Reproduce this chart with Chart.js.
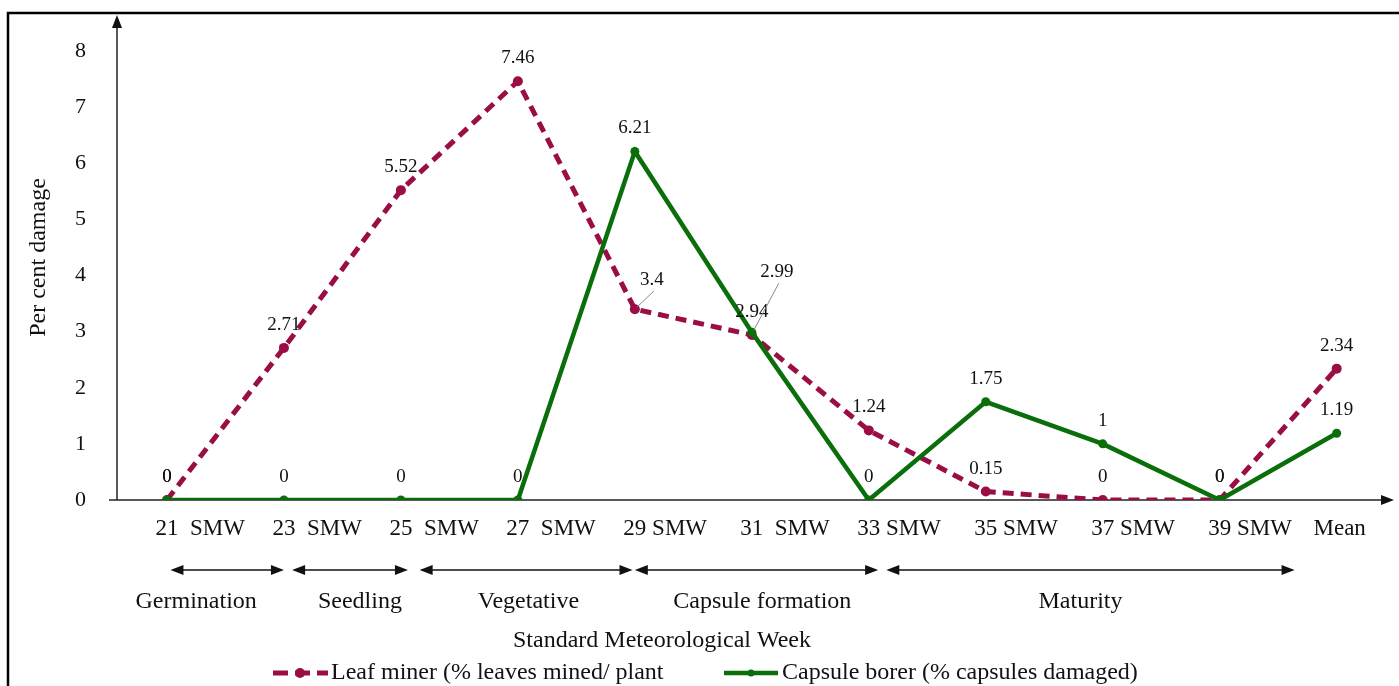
<!DOCTYPE html>
<html>
<head>
<meta charset="utf-8">
<script src="https://cdn.jsdelivr.net/npm/chart.js@4.4.1/dist/chart.umd.min.js"></script>
<style>
  html, body { margin: 0; padding: 0; background: #fff; }
  #wrap { width: 1399px; height: 686px; }
</style>
</head>
<body>
<div id="wrap"><canvas id="chart" width="1399" height="686"></canvas></div>
<script>
// data
const xTickLabels = ['21  SMW', '23  SMW', '25  SMW', '27  SMW', '29 SMW', '31  SMW', '33 SMW', '35 SMW', '37 SMW', '39 SMW', 'Mean'];
const leafMiner = [0, 2.71, 5.52, 7.46, 3.4, 2.94, 1.24, 0.15, 0, 0, 2.34];
const capsuleBorer = [0, 0, 0, 0, 6.21, 2.99, 0, 1.75, 1, 0, 1.19];
const yTicks = [0, 1, 2, 3, 4, 5, 6, 7, 8];

// crop stages (in week-index units along the x axis)
const stageNames = ['Germination', 'Seedling', 'Vegetative', 'Capsule formation', 'Maturity'];
const stageFrom = [0.03, 1.07, 2.16, 4.0, 6.15];
const stageTo = [1.0, 2.06, 3.98, 6.08, 9.64];
const stageLabelAt = [0.25, 1.65, 3.09, 5.09, 7.81];

const MAROON = '#9B0E45';
const GREEN = '#0A6E0A';
const FONT = "'Liberation Serif', 'Times New Roman', serif";

// labels that sit off their point, with a leader line
const labelShift = {
    '0-4': { dx: 17, dy: -29, leader: true },
    '1-5': { dx: 25, dy: -60, leader: true }
};

function arrowHead(c, x, y, dir) {
    // dir: 'up' | 'right' | 'left'
    c.beginPath();
    if (dir === 'up') {
        c.moveTo(x, y); c.lineTo(x - 5, y + 13); c.lineTo(x + 5, y + 13);
    } else if (dir === 'right') {
        c.moveTo(x, y); c.lineTo(x - 13, y - 5); c.lineTo(x - 13, y + 5);
    } else {
        c.moveTo(x, y); c.lineTo(x + 13, y - 5); c.lineTo(x + 13, y + 5);
    }
    c.closePath();
    c.fill();
}

const decor = {
    id: 'decor',
    beforeDraw(chart) {
        const c = chart.ctx;
        c.save();
        c.fillStyle = '#fff';
        c.fillRect(0, 0, chart.width, chart.height);
        c.strokeStyle = '#000';
        c.lineWidth = 2.5;
        c.beginPath();
        c.moveTo(8, chart.height);
        c.lineTo(8, 13);
        c.lineTo(chart.width, 13);
        c.stroke();
        c.restore();
    },
    beforeDatasetsDraw(chart) {
        const c = chart.ctx;
        const area = chart.chartArea;
        const y0 = chart.scales.y.getPixelForValue(0);
        c.save();
        c.strokeStyle = '#222';
        c.fillStyle = '#111';
        c.lineWidth = 1.5;
        c.beginPath();
        c.moveTo(area.left, y0);
        c.lineTo(area.left, area.top + 8);
        c.moveTo(area.left - 8, y0);
        c.lineTo(area.right - 8, y0);
        c.stroke();
        arrowHead(c, area.left, area.top, 'up');
        arrowHead(c, area.right, y0, 'right');
        c.restore();
    },
    afterDatasetsDraw(chart) {
        const c = chart.ctx;
        const xs = chart.scales.x;
        const ys = chart.scales.y;
        c.save();

        // value labels
        c.font = '19px ' + FONT;
        c.fillStyle = '#111';
        c.textAlign = 'center';
        c.textBaseline = 'middle';
        [leafMiner, capsuleBorer].forEach((vals, d) => {
            vals.forEach((v, i) => {
                const px = xs.getPixelForValue(i);
                const py = ys.getPixelForValue(v);
                const s = labelShift[d + '-' + i];
                if (s) {
                    const lx = px + s.dx, ly = py + s.dy;
                    c.strokeStyle = '#8a8a8a';
                    c.lineWidth = 1;
                    c.beginPath();
                    c.moveTo(lx + 2, ly + 11);
                    c.lineTo(px + 2, py - 2);
                    c.stroke();
                    c.fillText(String(v), lx, ly);
                } else {
                    c.fillText(String(v), px, py - 23);
                }
            });
        });

        // x tick labels: number centred on the point, "SMW" after it
        const y0 = ys.getPixelForValue(0);
        c.font = '23px ' + FONT;
        c.fillStyle = '#111';
        xTickLabels.forEach((lab, i) => {
            const px = xs.getPixelForValue(i);
            const k = lab.indexOf(' ');
            if (k < 0) {
                c.textAlign = 'center';
                c.fillText(lab, px + 3, y0 + 29);
                return;
            }
            const num = lab.slice(0, k);
            const w = c.measureText(num).width;
            c.textAlign = 'center';
            c.fillText(num, px, y0 + 29);
            c.textAlign = 'left';
            c.fillText(lab.slice(k), px + w / 2, y0 + 29);
        });

        // stage arrows and names
        const ay = 570;
        c.strokeStyle = '#111';
        c.fillStyle = '#111';
        c.lineWidth = 1.5;
        stageNames.forEach((name, i) => {
            const a = xs.getPixelForValue(stageFrom[i]);
            const b = xs.getPixelForValue(stageTo[i]);
            c.beginPath();
            c.moveTo(a + 6, ay);
            c.lineTo(b - 6, ay);
            c.stroke();
            arrowHead(c, a, ay, 'left');
            arrowHead(c, b, ay, 'right');
        });
        c.font = '24px ' + FONT;
        c.textAlign = 'center';
        stageNames.forEach((name, i) => {
            c.fillText(name, xs.getPixelForValue(stageLabelAt[i]), 602);
        });

        // axis title
        c.fillText('Standard Meteorological Week', 662, 641);

        // legend
        const ly = 673;
        c.lineWidth = 5;
        c.strokeStyle = MAROON;
        c.fillStyle = MAROON;
        c.setLineDash([15, 7]);
        c.beginPath();
        c.moveTo(273, ly);
        c.lineTo(328, ly);
        c.stroke();
        c.setLineDash([]);
        c.beginPath();
        c.arc(300, ly, 5, 0, Math.PI * 2);
        c.fill();

        c.strokeStyle = GREEN;
        c.fillStyle = GREEN;
        c.lineWidth = 4.5;
        c.beginPath();
        c.moveTo(724, ly);
        c.lineTo(778, ly);
        c.stroke();
        c.beginPath();
        c.arc(751, ly, 3.5, 0, Math.PI * 2);
        c.fill();

        c.fillStyle = '#111';
        c.textAlign = 'left';
        c.font = '24px ' + FONT;
        c.fillText('Leaf miner (% leaves mined/ plant', 331, ly);
        c.fillText('Capsule borer (% capsules damaged)', 782, ly);

        c.restore();
    }
};

new Chart(document.getElementById('chart'), {
    type: 'line',
    data: {
        datasets: [
            {
                label: 'Leaf miner (% leaves mined/ plant',
                data: leafMiner.map((v, i) => ({ x: i, y: v })),
                borderColor: MAROON,
                backgroundColor: MAROON,
                borderWidth: 5,
                borderDash: [11, 7],
                pointRadius: 5,
                pointBorderWidth: 0,
                pointBackgroundColor: MAROON,
                tension: 0,
                order: 2
            },
            {
                label: 'Capsule borer (% capsules damaged)',
                data: capsuleBorer.map((v, i) => ({ x: i, y: v })),
                borderColor: GREEN,
                backgroundColor: GREEN,
                borderWidth: 4.5,
                pointRadius: 4.5,
                pointBorderWidth: 0,
                pointBackgroundColor: GREEN,
                tension: 0,
                order: 1
            }
        ]
    },
    options: {
        responsive: false,
        animation: false,
        layout: { padding: { left: 0, top: 15, right: 1, bottom: 186 } },
        plugins: {
            legend: { display: false },
            tooltip: { enabled: false }
        },
        scales: {
            x: {
                type: 'linear',
                display: false,
                min: -0.427,
                max: 10.49,
                afterFit: function (scale) {
                    scale.paddingLeft = 0;
                    scale.paddingRight = 0;
                }
            },
            y: {
                min: 0,
                max: 8.64,
                afterBuildTicks: function (scale) {
                    scale.ticks = yTicks.map(v => ({ value: v }));
                },
                afterFit: function (scale) {
                    scale.width = 117;
                    scale.paddingTop = 0;
                    scale.paddingBottom = 0;
                },
                grid: { display: false, drawTicks: false },
                border: { display: false },
                ticks: {
                    padding: 31,
                    color: '#111',
                    font: { family: FONT, size: 22 }
                },
                title: {
                    display: true,
                    text: 'Per cent damage',
                    color: '#111',
                    padding: { top: 24, bottom: 0 },
                    font: { family: FONT, size: 24 }
                }
            }
        }
    },
    plugins: [decor]
});
</script>
</body>
</html>
